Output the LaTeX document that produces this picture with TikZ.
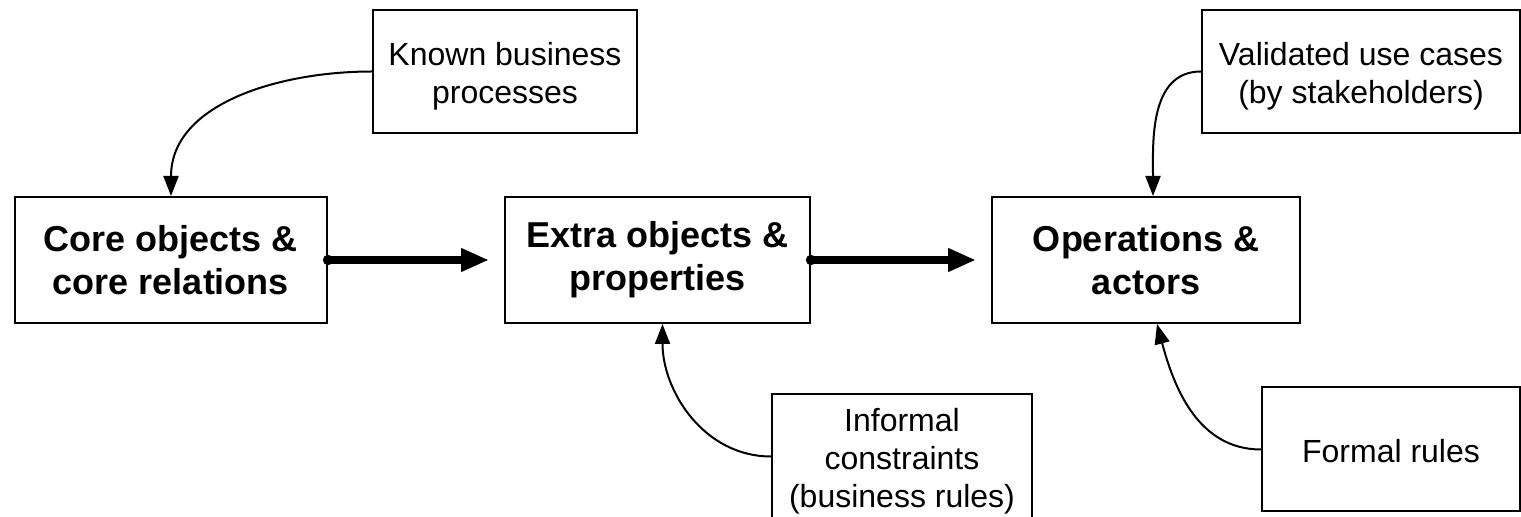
\documentclass[tikz,border=0pt]{standalone}
\usepackage{fontspec}
\setmainfont{Liberation Sans}
\usetikzlibrary{arrows.meta}
\newcommand\mytopstrut{\rule{0pt}{1em}}
\newcommand\mybotstrut{\rule[-0.2em]{0pt}{0.2em}}
\begin{document}
\begin{tikzpicture}[x=0.5pt,y=-0.5pt,
  mainbox/.style={draw,line width=1pt,inner sep=0pt,align=center,minimum height=63pt,font=\bfseries\fontsize{18}{21.5}\selectfont},
  srcbox/.style={draw,line width=1pt,inner sep=0pt,align=center,font=\fontsize{16}{19}\selectfont},
  flow/.style={line width=4pt,-{Triangle[length=14pt,width=11pt]},shorten >=7.5pt},
  feed/.style={line width=1pt,-{Triangle[length=10pt,width=7.5pt]}}]
\useasboundingbox (0,0) rectangle (1521,517);
\node[mainbox,minimum width=156pt] (core) at (171,260) {Core objects \&\\core relations};
\node[mainbox,minimum width=152.5pt] (extra) at (657.5,260) {Extra objects \&\\properties};
\node[mainbox,minimum width=154pt] (ops) at (1146,260) {Operations \&\\actors};
\node[srcbox,minimum width=132pt,minimum height=61.5pt] (known) at (505,71.5) {\mytopstrut Known business\\processes\mybotstrut};
\node[srcbox,minimum width=159pt,minimum height=61.5pt] (valid) at (1361,71.5) {\mytopstrut Validated use cases\\(by stakeholders)\mybotstrut};
\node[srcbox,minimum width=130pt,minimum height=62.5pt] (informal) at (902,456.5) {\mytopstrut Informal\\constraints\\(business rules)\mybotstrut};
\node[srcbox,minimum width=129pt,minimum height=62pt] (formal) at (1391,449.5) {\mytopstrut Formal rules\mybotstrut};
\draw[flow] (core.east) -- (extra.west);
\fill (core.east) circle[radius=2.6pt];
\draw[flow] (extra.east) -- (ops.west);
\fill (extra.east) circle[radius=2.6pt];
\draw[feed] (known.west) to[out=180,in=90] (core.north);
\draw[feed] (valid.west) to[out=180,in=90] ([xshift=3.5pt]ops.north);
\draw[feed] (informal.west) to[out=180,in=-90] ([xshift=2.5pt]extra.south);
\draw[feed] (formal.west) to[out=180,in=-75] ([xshift=5.5pt]ops.south);
\end{tikzpicture}
\end{document}
